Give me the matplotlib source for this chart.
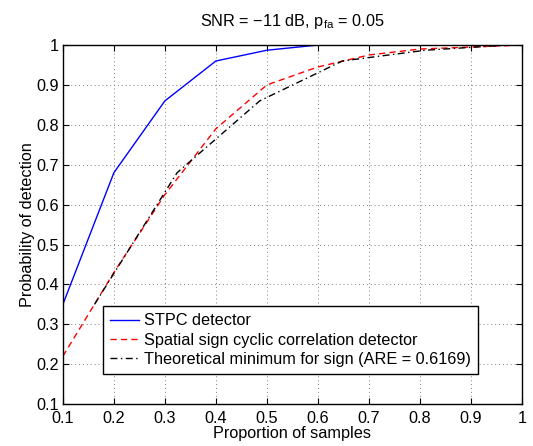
import matplotlib
matplotlib.use('Agg')
import matplotlib.pyplot as plt

# data
x = [0.1, 0.2, 0.3, 0.4, 0.5, 0.6, 0.7, 0.8, 0.9, 1.0]
stpc = [0.35, 0.68, 0.86, 0.96, 0.987, 1.0, 1.0, 1.0, 1.0, 1.0]
sign = [0.22, 0.43, 0.625, 0.79, 0.90, 0.945, 0.975, 0.99, 0.995, 1.0]
theo_x = [0.162, 0.324, 0.486, 0.648, 0.811, 0.973, 1.0]
theo = [0.35, 0.68, 0.86, 0.96, 0.987, 1.0, 1.0]

xticks = [0.1, 0.2, 0.3, 0.4, 0.5, 0.6, 0.7, 0.8, 0.9, 1]
yticks = [0.1, 0.2, 0.3, 0.4, 0.5, 0.6, 0.7, 0.8, 0.9, 1]
ticklabels = ['0.1', '0.2', '0.3', '0.4', '0.5', '0.6', '0.7', '0.8', '0.9', '1']
labels = ['STPC detector',
          'Spatial sign cyclic correlation detector',
          'Theoretical minimum for sign (ARE = 0.6169)']

fs = 11.7
plt.rcParams['font.family'] = ['Liberation Sans', 'DejaVu Sans']
plt.rcParams['font.size'] = fs
plt.rcParams['mathtext.fontset'] = 'custom'
plt.rcParams['mathtext.rm'] = 'Liberation Sans'
plt.rcParams['mathtext.it'] = 'Liberation Sans'

fig = plt.figure(figsize=(5.33, 4.46), dpi=100)
ax = fig.add_axes([0.118, 0.094, 0.861, 0.805])

ax.plot(x, stpc, color='#0000ff', lw=1.0, label=labels[0])
ax.plot(x, sign, color='#ff0000', lw=1.0, ls=(0, (4.5, 3)), label=labels[1])
ax.plot(theo_x, theo, color='black', lw=1.0, ls=(0, (5, 2.5, 1, 2.5)), label=labels[2])

ax.set_xlim(0.1, 1)
ax.set_ylim(0.1, 1)
ax.set_xticks(xticks)
ax.set_yticks(yticks)
ax.set_xticklabels(ticklabels)
ax.set_yticklabels(ticklabels)
ax.tick_params(direction='in', top=True, right=True, length=4, width=0.8, pad=3)
ax.tick_params(axis='x', pad=5)
ax.grid(True, ls=(0, (1, 3)), color='#808080', lw=0.7)
for s in ax.spines.values():
    s.set_linewidth(1.0)

ax.set_xlabel('Proportion of samples', labelpad=0)
ax.set_ylabel('Probability of detection', labelpad=1)
ax.set_title(r'SNR = $-$11 dB, p$_{\mathrm{fa}}$ = 0.05', pad=14, fontsize=fs)

leg = ax.legend(loc='lower left', bbox_to_anchor=(0.087, 0.084), fancybox=False,
                framealpha=1, edgecolor='black', handlelength=1.8,
                borderpad=0.45, labelspacing=0.25, handletextpad=0.3, borderaxespad=0)
leg.get_frame().set_linewidth(1.0)

fig.savefig('out.png', dpi=100)
